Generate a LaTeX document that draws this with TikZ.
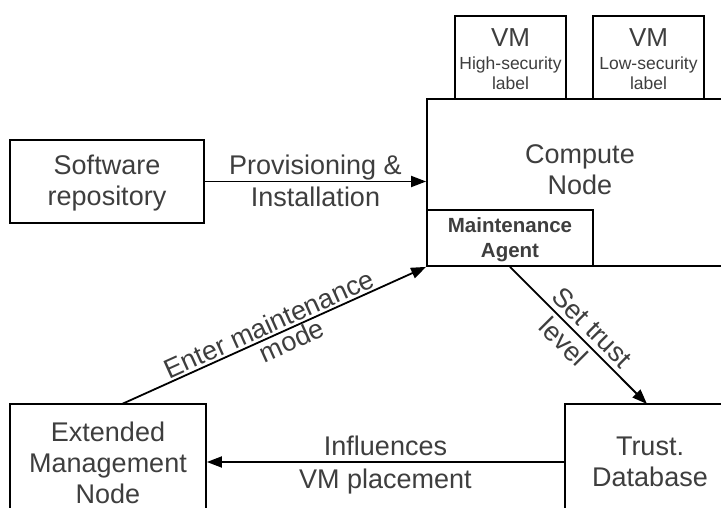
\documentclass[tikz,border=0pt]{standalone}
\usepackage{fontspec}
\setmainfont{Liberation Sans}
\usetikzlibrary{arrows.meta,calc}
\definecolor{ink}{HTML}{3E3E3E}
\tikzset{
  box/.style={draw=black, line width=1.8pt, fill=white, rectangle, inner sep=0pt},
  lbl/.style={text=ink, align=center, inner sep=0pt, font=\fontsize{27}{31}\selectfont},
  vmtitle/.style={text=ink, inner sep=0pt, font=\fontsize{26}{30}\selectfont},
  vmsub/.style={text=ink, align=center, inner sep=0pt, font=\fontsize{17.5}{20}\selectfont},
  agent/.style={text=ink, align=center, inner sep=0pt, font=\fontsize{20.5}{25}\selectfont\bfseries},
  elbl/.style={text=ink, align=center, inner sep=2pt, font=\fontsize{27}{31}\selectfont},
  arr/.style={draw=black, line width=1.8pt, -{Triangle[length=15pt,width=11pt]}},
}
\begin{document}
\begin{tikzpicture}[x=1pt,y=-1pt]
\useasboundingbox (0,0) rectangle (721,508);
\clip (0,0) rectangle (721,508);
\fill[white] (0,0) rectangle (721,508);

% virtual machines sitting on the compute node
% (multi-line texts are placed by the baseline of their last line)
\node[box, minimum width=111pt, minimum height=83pt] (vmhigh) at (510.5,57.5) {};
\node[vmtitle, anchor=base] (vmhighT) at (510.5,47) {VM};
\node[vmsub, anchor=base] (vmhighS) at (510.5,90) {High-security\\label};
\node[box, minimum width=111pt, minimum height=83pt] (vmlow) at (648.5,57.5) {};
\node[vmtitle, anchor=base] (vmlowT) at (648.5,47) {VM};
\node[vmsub, anchor=base] (vmlowS) at (648.5,90) {Low-security\\label};

% compute node with its maintenance agent
\node[box, minimum width=306pt, minimum height=167pt] (compute) at (580,182.5) {};
\node[lbl, anchor=base] (computeT) at (580,195) {Compute\\Node};
\node[box, minimum width=166pt, minimum height=56pt] (agentbox) at (510,238) {};
\node[agent, anchor=base] (agentT) at (510,258) {Maintenance\\Agent};

% software repository
\node[box, minimum width=194pt, minimum height=83pt] (repo) at (107,181.5) {};
\node[lbl, anchor=base] (repoT) at (107,206) {Software\\repository};

% extended management node
\node[box, minimum width=196pt, minimum height=116pt] (ext) at (108,462) {};
\node[lbl, anchor=base] (extT) at (108,503) {Extended\\Management\\Node};

% trust database
\node[box, minimum width=170pt, minimum height=116pt] (trust) at (650,462) {};
\node[lbl, anchor=base] (trustT) at (650,486) {Trust.\\Database};

% connector end points
\coordinate (extTop) at (122,404);
\coordinate (trustTop) at (647,404);

\draw[arr] (repo.east) -- (repo.east -| compute.west)
  node[elbl, midway, above, inner sep=0pt] {Provisioning \&}
  node[elbl, midway, below, inner sep=5pt] {Installation};

\draw[arr] (extTop) -- (compute.south west)
  node[elbl, midway, above, sloped, inner sep=2pt] {Enter maintenance}
  node[elbl, midway, below, sloped, inner sep=1pt, xshift=14pt] {mode};

\draw[arr] (agentbox.south) -- (trustTop)
  node[elbl, midway, above, sloped, inner sep=5pt, xshift=4pt] {Set trust}
  node[elbl, midway, below, sloped, inner sep=4pt, xshift=-6pt] {level};

\draw[arr] (trust.west) -- (trust.west -| ext.east)
  node[elbl, midway, above, inner sep=5pt] {Influences}
  node[elbl, midway, below, inner sep=6pt] {VM placement};
\end{tikzpicture}
\end{document}
